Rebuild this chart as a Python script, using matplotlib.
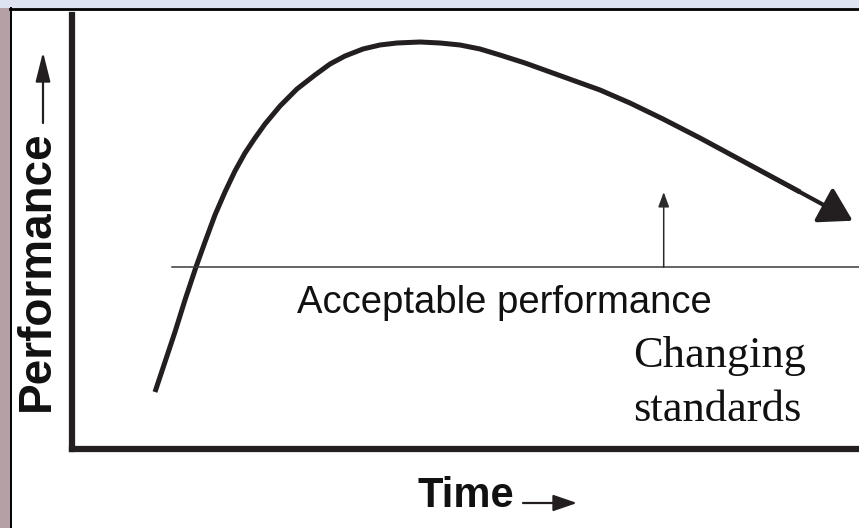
import matplotlib
matplotlib.use('Agg')
import matplotlib.pyplot as plt
from matplotlib.patches import Rectangle

#%% Data (time / performance in arbitrary 0-100 units)

time_pts = [10.60, 11.87, 13.14, 14.41, 15.81, 16.95, 18.22, 19.49, 20.76, 22.03,
            23.30, 24.57, 26.48, 28.63, 30.92, 32.83, 34.73, 37.02, 39.17, 41.33,
            44.25, 46.79, 49.33, 51.87, 54.41, 57.59, 60.76, 63.94, 67.11, 70.92,
            75.11, 79.81, 86.16, 92.51]
perf_pts = [13.13, 20.05, 26.96, 34.33, 41.94, 47.70, 53.92, 59.22, 64.06, 68.20,
            71.66, 74.88, 79.03, 82.95, 86.18, 88.71, 90.55, 92.17, 93.09, 93.55,
            93.78, 93.55, 93.09, 92.17, 90.78, 88.94, 86.87, 84.79, 82.72, 79.72,
            76.04, 71.66, 65.44, 59.22]
tip = (99.2, 52.6)

acceptable_level = 41.9
acceptable_start = 12.8
raised_level = 59.2
raise_at = 75.2

ink = '#231f20'

#%% Figure

fig = plt.figure(figsize=(8.59, 5.28), dpi=100)
fig.patch.set_facecolor('white')

# slide frame bits (left and top strips)
fig.patches.append(Rectangle((0, 0), 10 / 859, 1, transform=fig.transFigure,
                             facecolor='#b5a0a6', edgecolor='none', zorder=0))
fig.patches.append(Rectangle((0, 1 - 8 / 528), 1, 8 / 528, transform=fig.transFigure,
                             facecolor='#dde3f1', edgecolor='none', zorder=0))
fig.add_artist(plt.Line2D([10.5 / 859, 10.5 / 859], [0, 1 - 8 / 528],
                          transform=fig.transFigure, color='black', lw=1.4))
fig.add_artist(plt.Line2D([10 / 859, 1], [1 - 8.5 / 528, 1 - 8.5 / 528],
                          transform=fig.transFigure, color='black', lw=2.0))

ax = fig.add_axes([71.5 / 859, (528 - 449) / 528, (859 - 71.5) / 859, (449 - 15) / 528])
ax.set_xlim(0, 100)
ax.set_ylim(0, 100)
ax.set_xticks([])
ax.set_yticks([])
ax.patch.set_alpha(0)
for s in ['top', 'right']:
    ax.spines[s].set_visible(False)
for s in ['left', 'bottom']:
    ax.spines[s].set_linewidth(4.5)
    ax.spines[s].set_color(ink)
    ax.spines[s].set_capstyle('projecting')

# performance curve, last stretch drawn as the arrow
ax.plot(time_pts, perf_pts, color=ink, lw=3.6, solid_capstyle='butt',
        solid_joinstyle='round', clip_on=False)
ax.annotate('', xy=tip, xytext=(time_pts[-2], perf_pts[-2]),
            arrowprops=dict(arrowstyle='-|>,head_length=1.0,head_width=0.6',
                            mutation_scale=20, lw=3.0, color=ink,
                            shrinkA=0, shrinkB=0), annotation_clip=False)

# acceptable performance line and the rising standard
ax.plot([acceptable_start, 100], [acceptable_level, acceptable_level],
        color='#3a3a3a', lw=1.1, clip_on=False)
ax.annotate('', xy=(raise_at, raised_level), xytext=(raise_at, acceptable_level),
            arrowprops=dict(arrowstyle='-|>,head_length=0.9,head_width=0.33',
                            mutation_scale=10, lw=1.1, color='#2a2a2a',
                            shrinkA=0, shrinkB=0))

ax.text(55.0, 31.3, 'Acceptable performance', ha='center', va='baseline',
        fontsize=27.5, family='Liberation Sans', color='#111111')
ax.text(71.3, 18.9, 'Changing', ha='left', va='baseline',
        fontsize=32, family='Liberation Serif', color='#111111')
ax.text(71.3, 6.5, 'standards', ha='left', va='baseline',
        fontsize=32, family='Liberation Serif', color='#111111')

#%% Axis labels with arrows (figure pixels)

fig.text(418 / 859, 1 - 507 / 528, 'Time', ha='left', va='baseline',
         fontsize=30, fontweight='bold', family='Liberation Sans', color='#111111')
ax.annotate('', xy=(577, 528 - 503), xytext=(523, 528 - 503),
            xycoords='figure pixels', textcoords='figure pixels',
            arrowprops=dict(arrowstyle='-|>,head_length=1.45,head_width=0.5',
                            mutation_scale=10, lw=1.6, color=ink,
                            shrinkA=0, shrinkB=0))

fig.text(37 / 859, 1 - 271 / 528, 'Performance', ha='center', va='center',
         rotation=90, fontsize=33, fontweight='bold', family='Liberation Sans',
         color='#111111')
ax.annotate('', xy=(43, 528 - 52), xytext=(43, 528 - 123),
            xycoords='figure pixels', textcoords='figure pixels',
            arrowprops=dict(arrowstyle='-|>,head_length=1.8,head_width=0.45',
                            mutation_scale=10, lw=1.6, color=ink,
                            shrinkA=0, shrinkB=0))

fig.savefig('out.png', dpi=100)
